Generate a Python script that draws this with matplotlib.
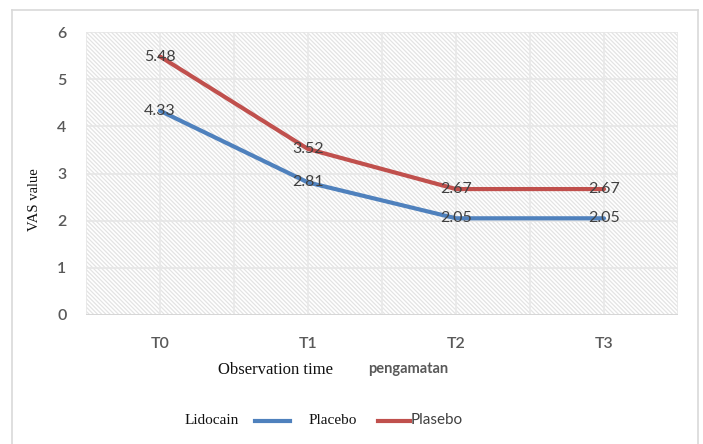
import matplotlib
matplotlib.use("Agg")
import matplotlib.pyplot as plt
from matplotlib.lines import Line2D
from matplotlib.patches import Rectangle

times = ["T0", "T1", "T2", "T3"]
lidocain = [4.33, 2.81, 2.05, 2.05]
plasebo = [5.48, 3.52, 2.67, 2.67]
labels_lido = ["4.33", "2.81", "2.05", "2.05"]
labels_plas = ["5.48", "3.52", "2.67", "2.67"]

blue = "#4F81BD"
red = "#C0504D"
sans = ["Lato", "DejaVu Sans"]
serif = ["Liberation Serif", "DejaVu Serif"]

plt.rcParams["hatch.linewidth"] = 0.9
plt.rcParams["hatch.color"] = "#e3e3e3"

fig = plt.figure(figsize=(7.03, 4.44), dpi=100)
W, H = 703, 444

def fx(px):
    return px / W

def fy(py):
    return 1 - py / H

# outer chart frame
for xs, ys in [([12, 698], [10, 10]), ([12, 12], [10, 444]), ([698, 698], [10, 444])]:
    fig.add_artist(Line2D([fx(x) for x in xs], [fy(y) for y in ys], color="#d9d9d9", lw=1.2))

ax = fig.add_axes([fx(86), fy(315), fx(678) - fx(86), fy(32) - fy(315)])
x = range(len(times))
ax.set_xlim(-0.5, 3.5)
ax.set_ylim(0, 6)

# hatched plot background
ax.add_patch(Rectangle((-0.5, 0), 4, 6, facecolor="white", edgecolor="#e3e3e3",
                       hatch="\\" * 8, lw=0, zorder=0))

for v in range(1, 7):
    ax.axhline(v, color="#e6e6e6", lw=1.2, zorder=1)
for k in range(9):
    ax.axvline(-0.5 + 0.5 * k, color="#e8e8e8", lw=1.2, zorder=1)
ax.axhline(0, color="#d6d6d6", lw=1.4, zorder=1)

ax.plot(x, lidocain, color=blue, lw=3, zorder=3, solid_capstyle="round")
ax.plot(x, plasebo, color=red, lw=3, zorder=3, solid_capstyle="round")

for i in x:
    ax.text(i, lidocain[i], labels_lido[i], ha="center", va="center", fontsize=11.5,
            color="#404040", family=sans, zorder=4)
    ax.text(i, plasebo[i], labels_plas[i], ha="center", va="center", fontsize=11.5,
            color="#404040", family=sans, zorder=4)

for s in ax.spines.values():
    s.set_visible(False)
ax.set_xticks(list(x))
ax.set_xticklabels(times)
ax.set_yticks(range(7))
ax.tick_params(length=0, labelsize=11.5, labelcolor="#595959", pad=14)
ax.tick_params(axis="x", pad=16)
for lab in ax.get_xticklabels() + ax.get_yticklabels():
    lab.set_family(sans)
    lab.set_weight("semibold")

fig.text(fx(35), fy(200), "VAS value", rotation=90, ha="center", va="center",
         fontsize=10.5, family=serif, color="#111111")
fig.text(fx(275), fy(370), "Observation time", ha="center", va="center",
         fontsize=12, family=serif, color="#111111")
fig.text(fx(408), fy(369), "pengamatan", ha="center", va="center",
         fontsize=10.5, family=sans, weight="bold", color="#595959")

# legend row
fig.text(fx(212), fy(420), "Lidocain", ha="center", va="center", fontsize=11,
         family=serif, color="#111111")
fig.add_artist(Line2D([fx(255), fx(290)], [fy(421), fy(421)], color=blue, lw=3))
fig.text(fx(333), fy(420), "Placebo", ha="center", va="center", fontsize=11,
         family=serif, color="#111111")
fig.add_artist(Line2D([fx(378), fx(410)], [fy(421), fy(421)], color=red, lw=3))
fig.text(fx(411), fy(420), "Plasebo", ha="left", va="center", fontsize=11,
         family=sans, color="#404040")

fig.savefig("out.png", dpi=100)
